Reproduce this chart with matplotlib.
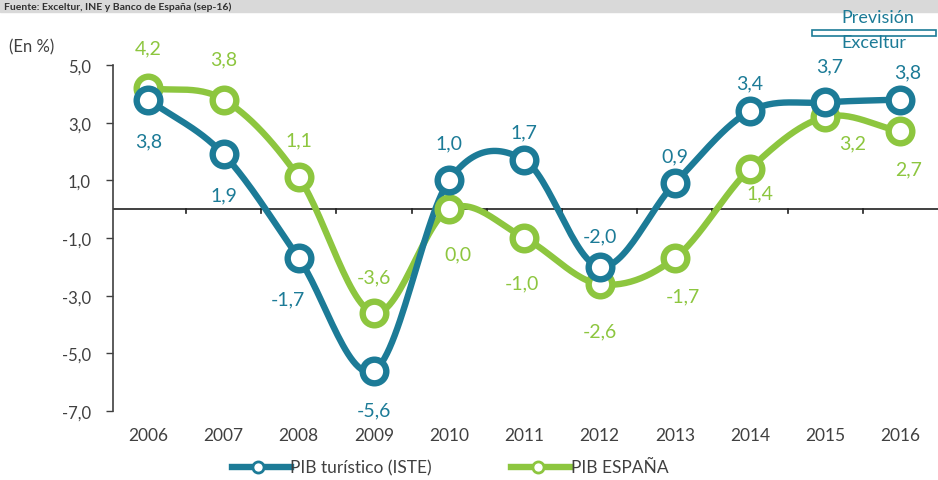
import numpy as np
import matplotlib.pyplot as plt
from matplotlib.patches import Rectangle

years = ['2006', '2007', '2008', '2009', '2010', '2011', '2012', '2013', '2014', '2015', '2016']
pib_turistico = [3.8, 1.9, -1.7, -5.6, 1.0, 1.7, -2.0, 0.9, 3.4, 3.7, 3.8]
pib_espana = [4.2, 3.8, 1.1, -3.6, 0.0, -1.0, -2.6, -1.7, 1.4, 3.2, 2.7]
yticks = [-7, -5, -3, -1, 1, 3, 5]

# label placement (dx, dy in points)
pos_tur = [(0, -30), (0, -29), (-8, -29), (0, -28), (0, 27), (0, 20), (0, 22),
           (0, 20), (0, 20), (3, 26), (5, 20)]
pos_esp = [(0, 29), (0, 29), (0, 27), (0, 26), (6, -32), (-2, -32), (0, -34),
           (6, -27), (7, -17), (20, -19), (6, -27)]

TEAL = '#1c7b97'
GREEN = '#8dc63f'
GREY = '#404040'

plt.rcParams['font.family'] = ['Lato', 'DejaVu Sans']


def smooth(x, y, n=30):
    # catmull-rom style smoothing like excel's smoothed line
    x = np.asarray(x, float)
    y = np.asarray(y, float)
    px = np.concatenate([[2 * x[0] - x[1]], x, [2 * x[-1] - x[-2]]])
    py = np.concatenate([[2 * y[0] - y[1]], y, [2 * y[-1] - y[-2]]])
    xs, ys = [], []
    t = np.linspace(0, 1, n)
    for i in range(1, len(px) - 2):
        p0, p1, p2, p3 = px[i-1:i+3]
        q0, q1, q2, q3 = py[i-1:i+3]
        c1x, c1y = p1 + (p2 - p0) / 6, q1 + (q2 - q0) / 6
        c2x, c2y = p2 - (p3 - p1) / 6, q2 - (q3 - q1) / 6
        bx = (1-t)**3*p1 + 3*(1-t)**2*t*c1x + 3*(1-t)*t**2*c2x + t**3*p2
        by = (1-t)**3*q1 + 3*(1-t)**2*t*c1y + 3*(1-t)*t**2*c2y + t**3*q2
        xs.extend(bx)
        ys.extend(by)
    return xs, ys


fig = plt.figure(figsize=(9.38, 4.81), dpi=100)
ax = fig.add_axes([0.1205, 0.1435, 0.8795, 0.7193])

x = np.arange(len(years))
for vals, col, pos in [(pib_espana, GREEN, pos_esp), (pib_turistico, TEAL, pos_tur)]:
    sx, sy = smooth(x, vals)
    ax.plot(sx, sy, color=col, lw=4.6, solid_capstyle='round', zorder=3)
    ax.plot(x, vals, 'o', ms=17, mfc='white', mec=col, mew=4.6, zorder=4)
    for xi, v, (dx, dy) in zip(x, vals, pos):
        ax.annotate(f'{v:.1f}'.replace('.', ','), (xi, v), xytext=(dx, dy),
                    textcoords='offset points', ha='center', va='center',
                    fontsize=14, color=col, zorder=5)

ax.set_xlim(-0.47, 10.5)
ax.set_ylim(-7, 5)
ax.set_yticks(yticks)
ax.set_yticklabels([f'{v:.1f}'.replace('.', ',') for v in yticks], fontsize=12, color=GREY)
ax.tick_params(axis='y', length=5, width=1, color=GREY, pad=11)
ax.set_xticks([])
for s in ['top', 'right', 'bottom']:
    ax.spines[s].set_visible(False)
ax.spines['left'].set_color(GREY)
ax.spines['left'].set_linewidth(1.2)

# zero line with category ticks
ax.axhline(0, color='#202020', lw=1.2, zorder=1)
for b in np.arange(0.5, 10.5, 1):
    ax.plot([b, b], [0, -0.15], color='#202020', lw=1.2, zorder=1)
for xi, yr in zip(x, years):
    ax.text(xi, -7.85, yr, ha='center', va='center', fontsize=12.5, color=GREY)

fig.text(0.010, 0.902, '(En %)', fontsize=12, color=GREY, va='center')

# source band at top
fig.patches.append(Rectangle((0, 0.972), 1, 0.03, transform=fig.transFigure,
                             color='#d9d9d9', zorder=0))
fig.text(0.004, 0.986, 'Fuente: Exceltur, INE y Banco de España (sep-16)',
         fontsize=7.5, color='#303030', va='center', fontweight='bold')

# prevision bracket
fig.text(0.936, 0.962, 'Previsión', fontsize=13, color=TEAL, ha='center', va='center')
fig.text(0.932, 0.910, 'Exceltur', fontsize=13, color=TEAL, ha='center', va='center')
fig.patches.append(Rectangle((0.866, 0.924), 0.132, 0.012, transform=fig.transFigure,
                             fill=False, ec=TEAL, lw=1.2))

# legend
ly = 0.027
fig.add_artist(plt.Line2D([0.247, 0.31], [ly, ly], color=TEAL, lw=4.6))
fig.add_artist(plt.Line2D([0.275], [ly], marker='o', ms=8, mfc='white', mec=TEAL, mew=2))
fig.text(0.309, ly, 'PIB turístico (ISTE)', fontsize=12.5, color=GREY, va='center')
fig.add_artist(plt.Line2D([0.545, 0.609], [ly, ly], color=GREEN, lw=4.6))
fig.add_artist(plt.Line2D([0.574], [ly], marker='o', ms=8, mfc='white', mec=GREEN, mew=2))
fig.text(0.609, ly, 'PIB ESPAÑA', fontsize=12.5, color=GREY, va='center')

fig.savefig('out.png', dpi=100)
